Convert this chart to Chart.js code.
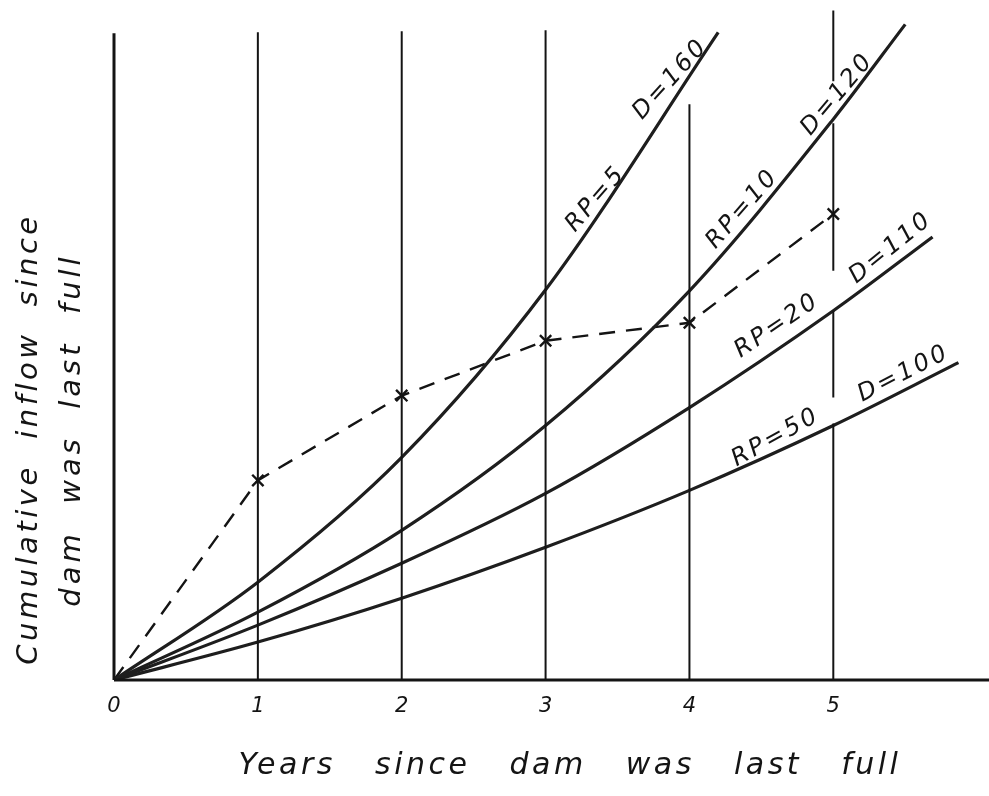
<!DOCTYPE html>
<html>
<head>
<meta charset="utf-8">
<script src="https://cdn.jsdelivr.net/npm/chart.js@4.4.1/dist/chart.umd.min.js"></script>
<style>
  html, body { margin: 0; padding: 0; background: #ffffff; }
  #wrap { width: 989px; height: 796px; position: relative; }
</style>
</head>
<body>
<div id="wrap"><canvas id="c" width="989" height="796"></canvas></div>
<script>
// ---- data (x in years, y = cumulative inflow, arbitrary units) ----
const tickYears = [0, 1, 2, 3, 4, 5];
const tickLabels = ['0', '1', '2', '3', '4', '5'];

const rp5X  = [0, 1, 2, 3, 4.20];
const rp5Y  = [0, 9.8, 22.3, 39.1, 64.9];
const rp10X = [0, 1, 2, 3, 4, 5, 5.50];
const rp10Y = [0, 6.8, 15.0, 25.5, 39.0, 56.2, 65.7];
const rp20X = [0, 1, 2, 3, 4, 5, 5.69];
const rp20Y = [0, 5.5, 11.7, 18.7, 27.3, 37.0, 44.4];
const rp50X = [0, 1, 2, 3, 4, 5, 5.87];
const rp50Y = [0, 3.8, 8.2, 13.3, 19.0, 25.5, 31.8];

const dashX = [0, 1, 2, 3, 4, 5];
const dashY = [0, 20.0, 28.5, 34.0, 35.8, 46.7];

const gridX   = [1, 2, 3, 4];
const gridTop = [64.9, 65.0, 65.1, 57.7];
const line5Segments = [[0, 25.7], [28.3, 37.0], [41.0, 55.8], [60.0, 67.1]];
const yAxisTop = 64.8;
const xMax = 6.01;
const xAxisEnd = 6.09;

const curveLabels = [
  { text: 'RP=5',  x: 3.35, y: 48.2, angle: -49 },
  { text: 'D=160', x: 3.87, y: 60.2, angle: -48 },
  { text: 'RP=10', x: 4.37, y: 47.2, angle: -49 },
  { text: 'D=120', x: 5.03, y: 58.7, angle: -50 },
  { text: 'RP=20', x: 4.61, y: 35.5, angle: -34 },
  { text: 'D=110', x: 5.40, y: 43.3, angle: -39 },
  { text: 'RP=50', x: 4.60, y: 24.3, angle: -29 },
  { text: 'D=100', x: 5.49, y: 30.7, angle: -27 }
];
const yTitleLines = ['Cumulative  inflow  since', 'dam  was  last  full'];
const xTitle = 'Years   since   dam   was   last   full';

// ---- build datasets ----
const pts = (xs, ys) => xs.map((x, i) => ({ x: x, y: ys[i] }));
const INK = '#141414';

const curve = (xs, ys) => ({
  data: pts(xs, ys), borderColor: '#1e1e1e', borderWidth: 3.2,
  pointRadius: 0, cubicInterpolationMode: 'monotone', fill: false
});

const datasets = [];
datasets.push({ data: [{ x: 0, y: 0 }, { x: 0, y: yAxisTop }], borderColor: INK, borderWidth: 3, pointRadius: 0, clip: false });
datasets.push({ data: [{ x: 0, y: 0 }, { x: xAxisEnd, y: 0 }], borderColor: INK, borderWidth: 3, pointRadius: 0, clip: false });
gridX.forEach((gx, i) => {
  datasets.push({ data: [{ x: gx, y: 0 }, { x: gx, y: gridTop[i] }], borderColor: INK, borderWidth: 2, pointRadius: 0, clip: false });
});
const l5 = [];
line5Segments.forEach((s, i) => {
  if (i > 0) l5.push({ x: 5, y: null });
  l5.push({ x: 5, y: s[0] }); l5.push({ x: 5, y: s[1] });
});
datasets.push({ data: l5, borderColor: INK, borderWidth: 2, pointRadius: 0, spanGaps: false, clip: false });
datasets.push(curve(rp5X, rp5Y));
datasets.push(curve(rp10X, rp10Y));
datasets.push(curve(rp20X, rp20Y));
datasets.push(curve(rp50X, rp50Y));
datasets.push({
  data: pts(dashX, dashY), borderColor: INK, borderWidth: 2.4, borderDash: [16, 11],
  tension: 0, pointStyle: 'crossRot', pointRadius: dashX.map((x, i) => i === 0 ? 0 : 8),
  pointBorderWidth: 2.4, pointBorderColor: INK, pointBackgroundColor: INK
});

const HAND = "'DejaVu Sans', sans-serif";

const textPlugin = {
  id: 'texts',
  afterDatasetsDraw(chart) {
    const { ctx, scales: { x, y } } = chart;
    ctx.save();
    ctx.fillStyle = INK;
    ctx.textAlign = 'center';
    ctx.textBaseline = 'middle';
    // curve labels
    ctx.font = "italic 24px " + HAND;
    ctx.letterSpacing = '3px';
    curveLabels.forEach(l => {
      ctx.save();
      ctx.translate(x.getPixelForValue(l.x), y.getPixelForValue(l.y));
      ctx.rotate(l.angle * Math.PI / 180);
      ctx.fillText(l.text, 0, 0);
      ctx.restore();
    });
    // y title (two rotated lines)
    ctx.font = "italic 29px " + HAND;
    const yCenters = [[29, 439], [72, 430]];
    const ySpacing = ['3.5px', '4px'];
    yTitleLines.forEach((t, i) => {
      ctx.save();
      ctx.letterSpacing = ySpacing[i];
      ctx.translate(yCenters[i][0], yCenters[i][1]);
      ctx.rotate(-Math.PI / 2);
      ctx.fillText(t, 0, 0);
      ctx.restore();
    });
    // x title
    ctx.font = "italic 30px " + HAND;
    ctx.letterSpacing = '3.5px';
    ctx.fillText(xTitle, 570, 766);
    ctx.restore();
  }
};

new Chart(document.getElementById('c'), {
  type: 'line',
  data: { datasets: datasets },
  options: {
    responsive: false,
    animation: false,
    layout: { padding: { top: 9, right: 4, left: 0, bottom: 0 } },
    plugins: { legend: { display: false }, tooltip: { enabled: false }, title: { display: false } },
    scales: {
      x: {
        type: 'linear', min: 0, max: xMax,
        grid: { display: false }, border: { display: false },
        afterFit: s => { s.height = 116; },
        afterBuildTicks: s => { s.ticks = tickYears.map(v => ({ value: v })); },
        ticks: {
          autoSkip: false, maxRotation: 0, padding: 6, color: INK,
          font: { family: HAND, size: 21, style: 'italic' },
          callback: v => tickLabels[tickYears.indexOf(v)] ?? ''
        }
      },
      y: {
        type: 'linear', min: 0, max: 67.1,
        grid: { display: false }, border: { display: false },
        ticks: { display: false },
        afterFit: s => { s.width = 114; }
      }
    }
  },
  plugins: [textPlugin]
});
</script>
</body>
</html>
